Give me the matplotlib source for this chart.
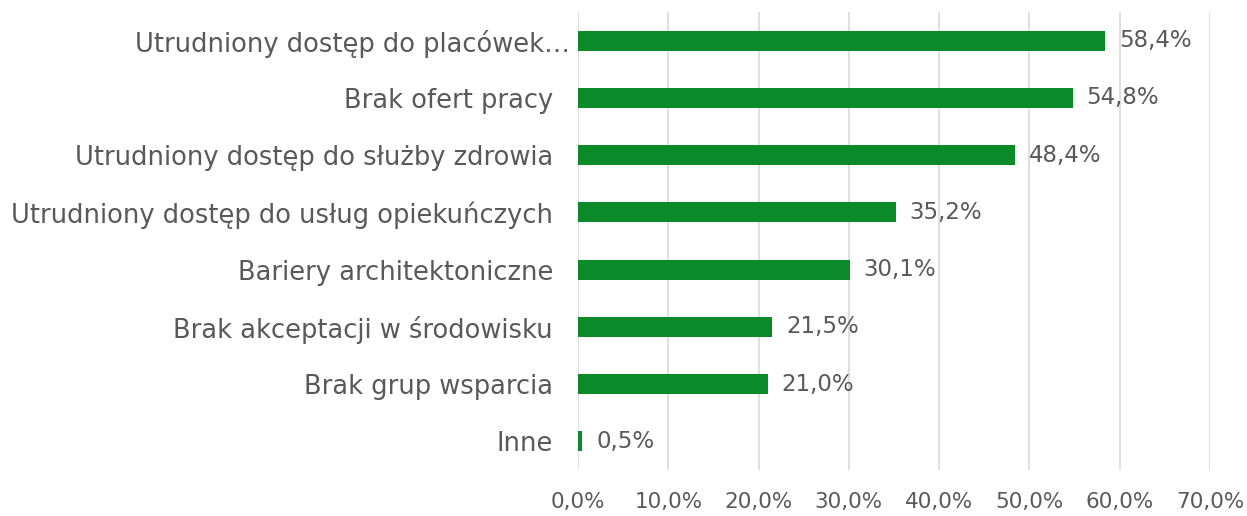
import matplotlib
matplotlib.use("Agg")
import matplotlib.pyplot as plt
from matplotlib.transforms import ScaledTranslation

categories = [
    "Utrudniony dostęp do placówek…",
    "Brak ofert pracy",
    "Utrudniony dostęp do służby zdrowia",
    "Utrudniony dostęp do usług opiekuńczych",
    "Bariery architektoniczne",
    "Brak akceptacji w środowisku",
    "Brak grup wsparcia",
    "Inne",
]
values = [58.4, 54.8, 48.4, 35.2, 30.1, 21.5, 21.0, 0.5]
xticks = [0, 10, 20, 30, 40, 50, 60, 70]

green = "#0B8A29"
gray_text = "#595959"

plt.rcParams['font.family'] = ['DejaVu Sans']

fig = plt.figure(figsize=(12.47, 5.16), dpi=100)
ax = fig.add_axes([0.4635, 0.0891, 0.5068, 0.8876])

ypos = list(range(len(categories)))
ax.barh(ypos, values, height=0.35, color=green, zorder=3)

for y, v in zip(ypos, values):
    ax.annotate(f"{v:.1f}%".replace(".", ","), (v, y), xytext=(10, 0),
                textcoords="offset points", va="center", ha="left",
                fontsize=16.5, color=gray_text)

ax.set_xlim(0, 70)
ax.set_ylim(len(categories) - 0.5, -0.5)
ax.set_yticks(ypos)
ax.set_yticklabels(categories, fontsize=18.5, color=gray_text)
ax.set_xticks(xticks)
ax.set_xticklabels([f"{t:.1f}%".replace(".", ",") for t in xticks],
                   fontsize=15.5, color=gray_text)
ax.tick_params(axis="both", length=0)
ax.tick_params(axis="y", pad=18)
ax.tick_params(axis="x", pad=16)

# first label (ellipsized) sits closer to the axis
lbl = ax.get_yticklabels()[0]
lbl.set_transform(lbl.get_transform() + ScaledTranslation(0.17, 0, fig.dpi_scale_trans))

ax.grid(axis="x", color="#D9D9D9", linewidth=1.2, zorder=0)
for s in ax.spines.values():
    s.set_visible(False)

fig.savefig("out.png", dpi=100)
